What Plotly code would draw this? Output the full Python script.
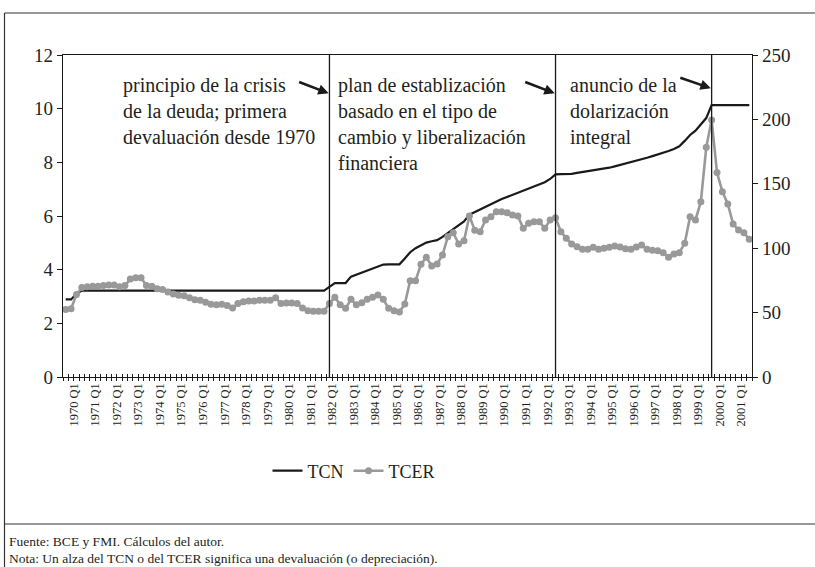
import plotly.graph_objects as go

# ---------------- data ----------------
years = list(range(1970, 2002))
quarter_labels = [f"{y} Q{q}" for y in years for q in (1, 2, 3, 4)]
tick_labels = [f"{y} Q1" for y in years]

# TCN (log of nominal exchange rate), left axis
tcn = [
    2.89, 2.89, 3.10, 3.22, 3.22, 3.22, 3.22, 3.22, 3.22, 3.22,
    3.22, 3.22, 3.22, 3.22, 3.22, 3.22, 3.22, 3.22, 3.22, 3.22,
    3.22, 3.22, 3.22, 3.22, 3.22, 3.22, 3.22, 3.22, 3.22, 3.22,
    3.22, 3.22, 3.22, 3.22, 3.22, 3.22, 3.22, 3.22, 3.22, 3.22,
    3.22, 3.22, 3.22, 3.22, 3.22, 3.22, 3.22, 3.22, 3.22, 3.36,
    3.50, 3.50, 3.50, 3.74, 3.82, 3.90, 3.97, 4.04, 4.12, 4.19,
    4.20, 4.20, 4.20, 4.42, 4.65, 4.80, 4.92, 5.01, 5.06, 5.10,
    5.22, 5.36, 5.50, 5.63, 5.80, 6.05, 6.15, 6.25, 6.35, 6.45,
    6.55, 6.63, 6.71, 6.79, 6.87, 6.95, 7.02, 7.09, 7.17, 7.26,
    7.38, 7.55, 7.56, 7.56, 7.57, 7.61, 7.64, 7.66, 7.69, 7.72,
    7.76, 7.80, 7.85, 7.90, 7.95, 8.00, 8.05, 8.10, 8.17, 8.23,
    8.29, 8.36, 8.42, 8.50, 8.60, 8.80, 9.02, 9.18, 9.40, 9.65,
    10.13, 10.13, 10.13, 10.13, 10.13, 10.13, 10.13, 10.13,
]

# TCER (real effective exchange rate index), right axis
tcer = [
    52.5, 53.0, 64.0, 69.5, 70.0, 70.5, 70.5, 71.0, 71.5, 71.5,
    70.0, 71.0, 76.0, 77.0, 77.0, 71.0, 70.5, 68.5, 68.0, 66.0,
    64.5, 63.5, 63.0, 61.5, 60.0, 59.5, 58.0, 56.5, 56.0, 56.5,
    55.5, 53.5, 57.0, 58.5, 59.0, 59.0, 59.5, 59.5, 59.5, 61.5,
    57.0, 57.5, 57.5, 57.0, 53.5, 51.5, 51.0, 51.0, 51.0, 57.0,
    62.0, 56.0, 53.3, 60.3, 56.0, 57.7, 60.3, 61.9, 63.7, 60.3,
    53.3, 51.5, 50.5, 56.7, 74.8, 74.8, 87.5, 92.9, 86.2, 87.7,
    94.7, 108.9, 112.0, 103.3, 105.8, 125.0, 114.0, 112.8, 121.9, 124.5,
    128.3, 128.3, 127.6, 125.8, 125.0, 115.4, 119.3, 120.6, 120.6, 115.4,
    121.9, 123.7, 112.8, 107.7, 103.3, 101.2, 99.1, 99.1, 100.7, 99.1,
    99.9, 100.7, 101.7, 101.0, 99.5, 99.1, 101.0, 102.5, 99.1, 98.5,
    98.0, 96.5, 92.9, 95.5, 96.5, 103.8, 124.5, 121.9, 136.1, 178.3,
    199.5, 158.7, 143.9, 134.3, 118.8, 114.1, 112.0, 106.9,
]

event_quarters = ["1982 Q2", "1992 Q4", "2000 Q1"]
event_texts = [
    "principio de la crisis<br>de la deuda; primera<br>devaluación desde 1970",
    "plan de establización<br>basado en el tipo de<br>cambio y liberalización<br>financiera",
    "anuncio de la<br>dolarización<br>integral",
]

source_text = "Fuente: BCE y FMI. Cálculos del autor."
note_text = "Nota: Un alza del TCN o del TCER significa una devaluación (o depreciación)."

# ---------------- figure ----------------
W, H = 815, 567
L, R, T, B = 63, 63, 55, 190
PW, PH = W - L - R, H - T - B

def px_x(px):
    return (px - L) / PW

def px_y(py):
    return (H - B - py) / PH

FONT = "Liberation Serif, Times New Roman, DejaVu Serif, serif"
TXT = "#231f20"

xs = list(range(len(quarter_labels)))
fig = go.Figure()

fig.add_trace(go.Scatter(
    x=xs, y=tcn, name="TCN", mode="lines",
    line=dict(color="#1a1a1a", width=2.2),
    yaxis="y",
))
fig.add_trace(go.Scatter(
    x=xs, y=tcer, name="TCER", mode="lines+markers",
    line=dict(color="#999999", width=2.6),
    marker=dict(color="#999999", size=7),
    yaxis="y2",
))
# helper trace to carry the inside x ticks
fig.add_trace(go.Scatter(
    x=xs, y=tcn, xaxis="x2", yaxis="y", mode="lines",
    line=dict(width=0), opacity=0, showlegend=False, hoverinfo="skip",
))

event_idx = [quarter_labels.index(q) for q in event_quarters]
for ei in event_idx:
    fig.add_shape(type="line", xref="x", yref="paper", x0=ei, x1=ei, y0=0, y1=1,
                  line=dict(color="#1a1a1a", width=1.3))

# text blocks
text_left_px = [121, 336, 568]
for tx, lp in zip(event_texts, text_left_px):
    fig.add_annotation(text=tx, xref="paper", yref="paper", x=px_x(lp), y=px_y(72),
                       xanchor="left", yanchor="top", align="left", showarrow=False,
                       font=dict(family=FONT, size=20, color=TXT))

# arrows pointing at the event lines
arrow_tail = [(-31, -12), (-31, -12), (-32, -11)]
arrow_head_y = [10.57, 10.57, 10.76]
for ei, (ax, ay), hy in zip(event_idx, arrow_tail, arrow_head_y):
    fig.add_annotation(x=ei - 0.15, y=hy, xref="x", yref="y", text="", showarrow=True,
                       ax=ax, ay=ay, arrowhead=2, arrowsize=0.8, arrowwidth=2.6,
                       arrowcolor="#1a1a1a", standoff=0)

# footer
fig.add_annotation(text=source_text, xref="paper", yref="paper", x=px_x(7), y=px_y(541),
                   xanchor="left", yanchor="middle", showarrow=False,
                   font=dict(family=FONT, size=13.5, color=TXT))
fig.add_annotation(text=note_text, xref="paper", yref="paper", x=px_x(7), y=px_y(558),
                   xanchor="left", yanchor="middle", showarrow=False,
                   font=dict(family=FONT, size=13.5, color=TXT))

# outer frame lines
fl, fr = px_x(4.5), px_x(W + 5)
fig.add_shape(type="line", xref="paper", yref="paper", x0=fl, x1=fl, y0=px_y(13), y1=px_y(H + 5),
              line=dict(color="#333", width=1.2))
fig.add_shape(type="line", xref="paper", yref="paper", x0=fl, x1=fr, y0=px_y(13), y1=px_y(13),
              line=dict(color="#333", width=1.2))
fig.add_shape(type="line", xref="paper", yref="paper", x0=fl, x1=fr, y0=px_y(524), y1=px_y(524),
              line=dict(color="#333", width=1.2))

xr = [-0.5, len(xs) - 0.5]
fig.update_layout(
    width=W, height=H,
    margin=dict(l=L, r=R, t=T, b=B, autoexpand=False),
    paper_bgcolor="white", plot_bgcolor="white",
    font=dict(family=FONT, color=TXT),
    xaxis=dict(
        range=xr, showgrid=False, zeroline=False,
        showline=True, linecolor="#1a1a1a", linewidth=1.3, mirror=True,
        tickmode="array", tickvals=[i * 4 + 1.5 for i in range(len(tick_labels))],
        ticktext=tick_labels, tickangle=-90, ticks="",
        tickfont=dict(family=FONT, size=12.5, color=TXT),
        minor=dict(ticks="outside", ticklen=3, tickmode="linear", tick0=-0.5, dtick=1,
                   tickcolor="#1a1a1a", tickwidth=1, showgrid=False),
    ),
    xaxis2=dict(
        range=xr, overlaying="x", anchor="y", side="bottom",
        showgrid=False, zeroline=False, showline=False, showticklabels=False,
        tickmode="linear", tick0=-0.5, dtick=1, ticks="inside", ticklen=3,
        tickcolor="#1a1a1a", tickwidth=1,
    ),
    yaxis=dict(
        range=[0, 12], dtick=2, showgrid=False, zeroline=False,
        showline=True, linecolor="#1a1a1a", linewidth=1.3,
        ticks="outside", ticklen=5, tickcolor="#1a1a1a",
        tickfont=dict(family=FONT, size=19, color=TXT),
    ),
    yaxis2=dict(
        range=[0, 250], dtick=50, overlaying="y", side="right", anchor="x",
        showgrid=False, zeroline=False,
        showline=True, linecolor="#1a1a1a", linewidth=1.3,
        ticks="outside", ticklen=5, tickcolor="#1a1a1a",
        tickfont=dict(family=FONT, size=19, color=TXT),
    ),
    legend=dict(
        orientation="h", x=px_x(354), xanchor="center", y=px_y(471), yanchor="middle",
        font=dict(family=FONT, size=18, color=TXT), bgcolor="rgba(0,0,0,0)",
        itemwidth=30, tracegroupgap=0,
    ),
    showlegend=True,
)

fig.write_html(
    "out.html",
    config={"displayModeBar": False},
    post_script="document.body.style.margin='0';document.body.style.overflow='hidden';",
)
